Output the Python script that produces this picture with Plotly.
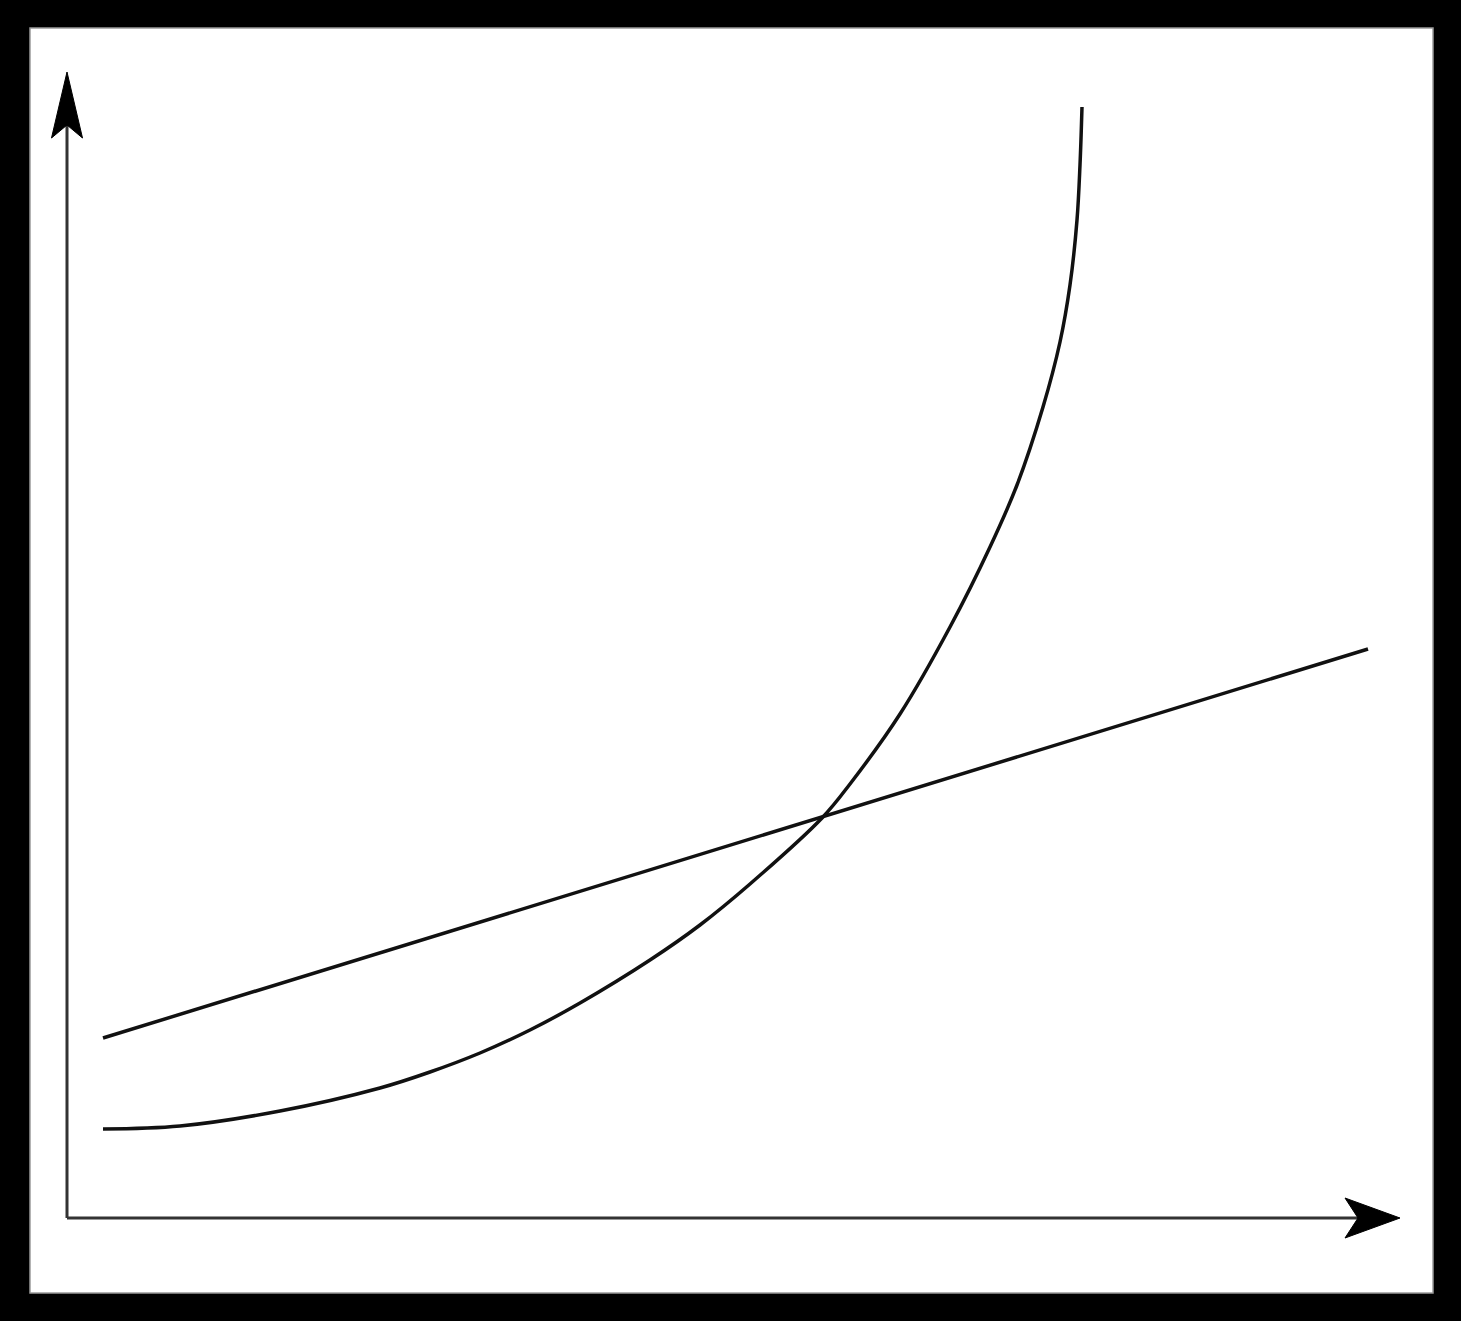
import plotly.graph_objects as go

# Straight line (two end points, axis-origin units)
line_x = [36, 1301]
line_y = [180, 569]

# Convex curve rising steeply
curve_x = [36, 113, 213, 313, 363, 413, 463, 513, 583, 633, 683, 755, 783, 833, 883, 923, 950, 976, 993, 1003, 1010, 1013, 1015]
curve_y = [89, 92, 107, 130, 146, 165, 188, 215, 258, 293, 334, 400, 434, 504, 591, 671, 733, 811, 876, 933, 998, 1053, 1111]

# Axis extents
x_axis_end = 1291
y_axis_end = 1093

W, H = 1461, 1321
ml, mr, mt, mb = 30, 28, 28, 28
x_range = [-37, W - ml - mr - 37]
y_range = [-75, H - mt - mb - 75]

fig = go.Figure()

fig.add_trace(go.Scatter(x=line_x, y=line_y, mode="lines",
                         line=dict(color="#111111", width=3.5), showlegend=False, hoverinfo="skip"))
fig.add_trace(go.Scatter(x=curve_x, y=curve_y, mode="lines", line_shape="spline",
                         line=dict(color="#111111", width=3.5, smoothing=1.0),
                         showlegend=False, hoverinfo="skip"))

shapes = [
    dict(type="line", xref="x", yref="y", x0=0, y0=0, x1=0, y1=y_axis_end,
         line=dict(color="#333333", width=3)),
    dict(type="line", xref="x", yref="y", x0=0, y0=0, x1=x_axis_end, y1=0,
         line=dict(color="#333333", width=3)),
    dict(type="path", xref="x", yref="y",
         path="M 0 1146 L 15.5 1080 L 0 1093 L -15.5 1080 Z",
         fillcolor="#000000", line=dict(color="#000000", width=1)),
    dict(type="path", xref="x", yref="y",
         path="M 1333 0 L 1278 20 L 1291 0 L 1278 -20 Z",
         fillcolor="#000000", line=dict(color="#000000", width=1)),
    dict(type="rect", xref="paper", yref="paper", x0=0, y0=0, x1=1, y1=1,
         line=dict(color="#9a9a9a", width=1.5)),
]

fig.update_layout(
    width=W, height=H,
    margin=dict(l=ml, r=mr, t=mt, b=mb, pad=0),
    paper_bgcolor="#000000",
    plot_bgcolor="#ffffff",
    shapes=shapes,
    xaxis=dict(range=x_range, visible=False, showgrid=False, zeroline=False, fixedrange=True),
    yaxis=dict(range=y_range, visible=False, showgrid=False, zeroline=False, fixedrange=True),
    showlegend=False,
)

fig.write_html("out.html", config={"displayModeBar": False},
               post_script="document.body.style.margin='0';document.body.style.overflow='hidden';")
